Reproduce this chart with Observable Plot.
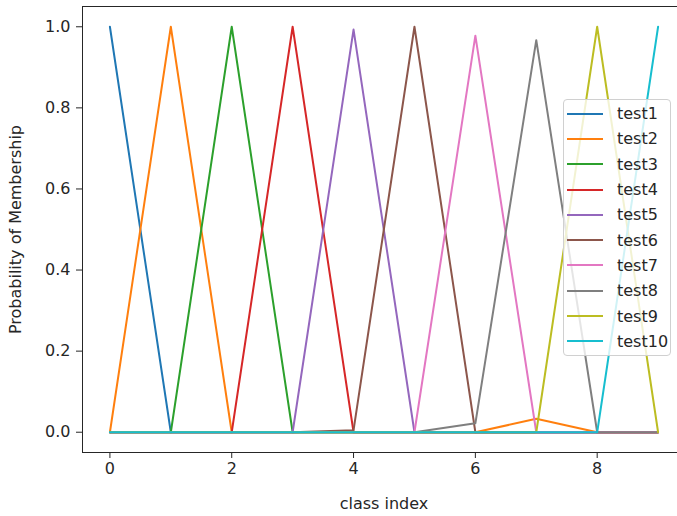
<!DOCTYPE html>
<html>
<head>
<meta charset="utf-8">
<script src="https://cdn.jsdelivr.net/npm/d3@7"></script>
<script src="https://cdn.jsdelivr.net/npm/@observablehq/plot@0.6"></script>
<style>
  html, body { margin: 0; padding: 0; background: #fff; }
  #wrap { position: relative; width: 677px; height: 516px; overflow: hidden; font-family: "DejaVu Sans", sans-serif; }
  #legend { position: absolute; left: 563px; top: 99px; width: 108px; height: 257px;
    border: 1px solid #d0d0d0; border-radius: 4px; background: rgba(255,255,255,0.8);
    box-sizing: border-box; padding-top: 1px; }
  .row { height: 25.3px; display: flex; align-items: center; font-size: 16px; color: #262626; }
  .sw { width: 36px; height: 2px; margin-left: 3px; margin-right: 14px; }
</style>
</head>
<body>
<div id="wrap"></div>
<script>
const classIndex = [0, 1, 2, 3, 4, 5, 6, 7, 8, 9];
const seriesNames = ["test1", "test2", "test3", "test4", "test5", "test6", "test7", "test8", "test9", "test10"];
const seriesColors = ["#1f77b4", "#ff7f0e", "#2ca02c", "#d62728", "#9467bd", "#8c564b", "#e377c2", "#7f7f7f", "#bcbd22", "#17becf"];
const test1  = [1, 0, 0, 0, 0, 0, 0, 0, 0, 0];
const test2  = [0, 1, 0, 0, 0, 0, 0, 0.033, 0, 0];
const test3  = [0, 0, 1, 0, 0, 0, 0, 0, 0, 0];
const test4  = [0, 0, 0, 1, 0, 0, 0, 0, 0, 0];
const test5  = [0, 0, 0, 0, 0.993, 0, 0, 0, 0, 0];
const test6  = [0, 0, 0, 0, 0.005, 1, 0, 0, 0, 0];
const test7  = [0, 0, 0, 0, 0, 0, 0.978, 0, 0, 0];
const test8  = [0, 0, 0, 0, 0, 0, 0.022, 0.967, 0, 0];
const test9  = [0, 0, 0, 0, 0, 0, 0, 0, 1, 0];
const test10 = [0, 0, 0, 0, 0, 0, 0, 0, 0, 1];
const xTicks = [0, 2, 4, 6, 8];
const yTicks = [0, 0.2, 0.4, 0.6, 0.8, 1.0];

const allSeries = [test1, test2, test3, test4, test5, test6, test7, test8, test9, test10];
const rows = [];
allSeries.forEach((vals, si) => {
  vals.forEach((v, i) => rows.push({series: seriesNames[si], x: classIndex[i], y: v}));
});

const chart = Plot.plot({
  width: 677,
  height: 516,
  marginLeft: 82,
  marginRight: -8,
  marginTop: 6,
  marginBottom: 64,
  style: {fontFamily: "DejaVu Sans, sans-serif", fontSize: "16px", color: "#262626", background: "transparent"},
  x: {domain: [-0.45, 9.45]},
  y: {domain: [-0.05, 1.05]},
  color: {domain: seriesNames, range: seriesColors},
  marks: [
    Plot.line(rows, {x: "x", y: "y", z: "series", stroke: "series", strokeWidth: 2}),
    Plot.frame({stroke: "#262626", strokeWidth: 1}),
    Plot.axisX({ticks: xTicks, tickSize: 6, tickPadding: 4, tickFormat: d => String(d),
      label: "class index", labelAnchor: "center", labelArrow: "none", labelOffset: 56, fontSize: 16}),
    Plot.axisY({ticks: yTicks, tickSize: 6, tickPadding: 6, tickFormat: d => d.toFixed(1),
      label: "Probability of Membership", labelAnchor: "center", labelArrow: "none", labelOffset: 73, fontSize: 16})
  ]
});
const wrap = document.getElementById("wrap");
wrap.appendChild(chart);

const legend = document.createElement("div");
legend.id = "legend";
seriesNames.forEach((name, i) => {
  const row = document.createElement("div");
  row.className = "row";
  const sw = document.createElement("div");
  sw.className = "sw";
  sw.style.background = seriesColors[i];
  const t = document.createElement("span");
  t.textContent = name;
  row.appendChild(sw);
  row.appendChild(t);
  legend.appendChild(row);
});
wrap.appendChild(legend);
</script>
</body>
</html>
